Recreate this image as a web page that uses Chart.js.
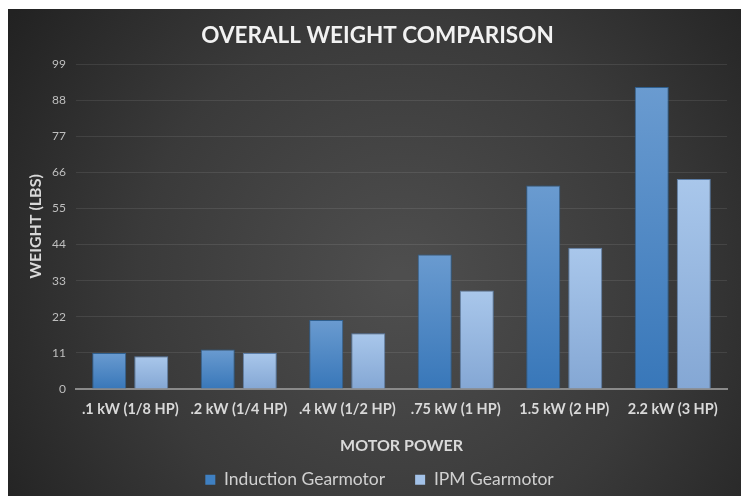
<!DOCTYPE html>
<html>
<head>
<meta charset="utf-8">
<script src="https://cdn.jsdelivr.net/npm/chart.js@4"></script>
<style>
  html, body { margin: 0; padding: 0; background: #ffffff; }
  #wrap { width: 744px; height: 496px; position: relative; }
</style>
</head>
<body>
<div id="wrap"><canvas id="c" width="744" height="496"></canvas></div>
<script>
const categories = ['.1 kW (1/8 HP)', '.2 kW (1/4 HP)', '.4 kW (1/2 HP)', '.75 kW (1 HP)', '1.5 kW (2 HP)', '2.2 kW (3 HP)'];
const inductionWeights = [11, 12, 21, 41, 62, 92];
const ipmWeights = [10, 11, 17, 30, 43, 64];
const seriesNames = ['Induction Gearmotor', 'IPM Gearmotor'];
const yTickValues = [0, 11, 22, 33, 44, 55, 66, 77, 88, 99];

const FONT = "Lato, 'Open Sans', sans-serif";

function barGradient(top, bottom) {
  return function (ctx) {
    const chart = ctx.chart;
    const area = chart.chartArea;
    if (!area || ctx.type !== 'data') return bottom;
    const yScale = chart.scales.y;
    const yTop = yScale.getPixelForValue(ctx.raw);
    const yBot = yScale.getPixelForValue(0);
    const g = chart.ctx.createLinearGradient(0, yTop, 0, yBot);
    g.addColorStop(0, top);
    g.addColorStop(1, bottom);
    return g;
  };
}

const bgPlugin = {
  id: 'bg',
  beforeDraw(chart) {
    const c = chart.ctx;
    c.save();
    c.fillStyle = '#ffffff';
    c.fillRect(0, 0, chart.width, chart.height);
    const g = c.createRadialGradient(400, 280, 10, 400, 280, 470);
    g.addColorStop(0, '#4e4e4e');
    g.addColorStop(0.55, '#3a3a3a');
    g.addColorStop(1, '#222222');
    c.fillStyle = g;
    c.fillRect(8, 9, 733, 487);
    c.restore();
  }
};

// legend: keep wide item gap but a compact box, placed just below the axis title
const legendPlacePlugin = {
  id: 'legendPlace',
  afterInit(chart) {
    const leg = chart.legend;
    if (!leg) return;
    const origFit = leg.fit.bind(leg);
    leg.fit = function () { origFit(); this.height = 37; };
  },
  afterLayout(chart) {
    const leg = chart.legend;
    if (leg) {
      leg.top = 441;
      leg.bottom = 496;
      leg.height = 55;
      leg.left += 12;
      leg.right += 12;
    }
    const tb = chart.titleBlock;
    if (tb) {
      tb.left += 10;
      tb.right += 10;
    }
  }
};

new Chart(document.getElementById('c'), {
  type: 'bar',
  data: {
    labels: categories,
    datasets: [
      {
        label: seriesNames[0],
        data: inductionWeights,
        backgroundColor: barGradient('#6a9bd0', '#3877b9'),
        borderColor: '#2f5f8e',
        borderWidth: 1,
        barPercentage: 0.81,
        categoryPercentage: 0.775
      },
      {
        label: seriesNames[1],
        data: ipmWeights,
        backgroundColor: barGradient('#a9c7eb', '#84a7d4'),
        borderColor: '#5c7ea8',
        borderWidth: 1,
        barPercentage: 0.81,
        categoryPercentage: 0.775
      }
    ]
  },
  plugins: [bgPlugin, legendPlacePlugin],
  options: {
    responsive: false,
    animation: false,
    devicePixelRatio: 1,
    layout: { padding: { left: 8, right: 17, top: 9, bottom: 4 } },
    plugins: {
      title: {
        display: true,
        text: 'OVERALL WEIGHT COMPARISON',
        color: '#f2f2f2',
        font: { family: FONT, size: 22.5, weight: 'bold' },
        padding: { top: 13, bottom: 15 }
      },
      legend: {
        position: 'bottom',
        labels: {
          color: '#d0d0d0',
          font: { family: FONT, size: 17.5 },
          boxWidth: 10,
          boxHeight: 10,
          padding: 30,
          generateLabels(chart) {
            const fills = ['#3f80c2', '#a3c2e8'];
            return chart.data.datasets.map((ds, i) => ({
              text: ds.label,
              fillStyle: fills[i],
              strokeStyle: fills[i],
              lineWidth: 0,
              fontColor: '#d0d0d0',
              datasetIndex: i,
              hidden: false
            }));
          }
        }
      },
      tooltip: { enabled: false }
    },
    scales: {
      x: {
        grid: { display: false, drawTicks: false },
        border: { display: true, color: '#8a8a8a', width: 2 },
        ticks: {
          color: '#d9d9d9',
          font: { family: FONT, size: 14.5, weight: 'bold' },
          padding: 12,
          maxRotation: 0,
          autoSkip: false
        },
        title: {
          display: true,
          text: 'MOTOR POWER',
          color: '#d9d9d9',
          font: { family: FONT, size: 16, weight: 'bold' },
          padding: { top: 0, bottom: 0 }
        },
        afterFit(scale) { scale.height = 66; }
      },
      y: {
        min: 0,
        max: 99,
        afterBuildTicks(scale) { scale.ticks = yTickValues.map(v => ({ value: v })); },
        grid: { color: 'rgba(255,255,255,0.09)', lineWidth: 1, drawTicks: false },
        border: { display: false },
        ticks: {
          color: '#bfbfbf',
          font: { family: FONT, size: 12 },
          padding: 10
        },
        title: {
          display: true,
          text: 'WEIGHT (LBS)',
          color: '#d9d9d9',
          font: { family: FONT, size: 16, weight: 'bold' },
          padding: { top: 18, bottom: 0 }
        },
        afterFit(scale) { scale.width = 68; }
      }
    }
  }
});
</script>
</body>
</html>
